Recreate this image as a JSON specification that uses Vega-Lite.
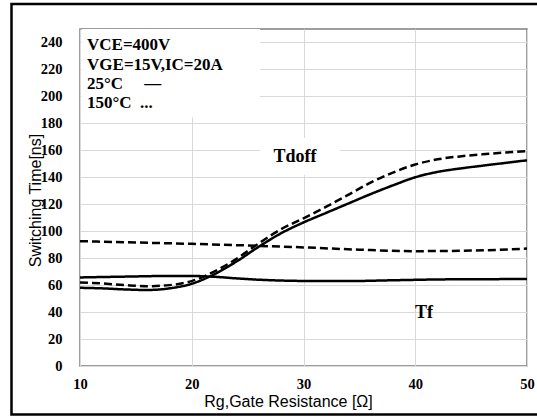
{
  "$schema": "https://vega.github.io/schema/vega-lite/v6.json",
  "width": 447,
  "height": 337,
  "autosize": {"type": "none"},
  "padding": {"left": 80, "top": 29, "right": 10, "bottom": 51},
  "background": "white",
  "config": {
    "view": {"stroke": "#7f7f7f", "strokeWidth": 1.5},
    "axis": {
      "domain": false,
      "ticks": false,
      "labelOverlap": false,
      "labelFlush": false,
      "gridColor": "#d9d9d9",
      "gridWidth": 1,
      "labelFont": "Liberation Serif",
      "labelFontWeight": "bold",
      "labelFontSize": 14.5,
      "labelColor": "#000000",
      "titleFont": "Liberation Sans",
      "titleFontWeight": "normal",
      "titleFontSize": 16,
      "titleColor": "#000000"
    }
  },
  "datasets": {
    "curves": [
      {"rg": 10, "t": 58, "series": "Tdoff 25°C", "temp": "25°C"},
      {"rg": 12, "t": 57.6, "series": "Tdoff 25°C", "temp": "25°C"},
      {"rg": 14, "t": 56.8, "series": "Tdoff 25°C", "temp": "25°C"},
      {"rg": 16, "t": 56.4, "series": "Tdoff 25°C", "temp": "25°C"},
      {"rg": 18, "t": 57.6, "series": "Tdoff 25°C", "temp": "25°C"},
      {"rg": 20, "t": 61, "series": "Tdoff 25°C", "temp": "25°C"},
      {"rg": 22, "t": 68, "series": "Tdoff 25°C", "temp": "25°C"},
      {"rg": 24, "t": 77.5, "series": "Tdoff 25°C", "temp": "25°C"},
      {"rg": 26, "t": 88.5, "series": "Tdoff 25°C", "temp": "25°C"},
      {"rg": 28, "t": 98.5, "series": "Tdoff 25°C", "temp": "25°C"},
      {"rg": 30, "t": 106.5, "series": "Tdoff 25°C", "temp": "25°C"},
      {"rg": 32, "t": 113.5, "series": "Tdoff 25°C", "temp": "25°C"},
      {"rg": 34, "t": 120.5, "series": "Tdoff 25°C", "temp": "25°C"},
      {"rg": 36, "t": 127.5, "series": "Tdoff 25°C", "temp": "25°C"},
      {"rg": 38, "t": 134, "series": "Tdoff 25°C", "temp": "25°C"},
      {"rg": 40, "t": 140, "series": "Tdoff 25°C", "temp": "25°C"},
      {"rg": 42, "t": 144, "series": "Tdoff 25°C", "temp": "25°C"},
      {"rg": 44, "t": 146.5, "series": "Tdoff 25°C", "temp": "25°C"},
      {"rg": 46, "t": 148.6, "series": "Tdoff 25°C", "temp": "25°C"},
      {"rg": 48, "t": 150.6, "series": "Tdoff 25°C", "temp": "25°C"},
      {"rg": 50, "t": 152.6, "series": "Tdoff 25°C", "temp": "25°C"},
      {"rg": 10, "t": 62, "series": "Tdoff 150°C", "temp": "150°C"},
      {"rg": 12, "t": 61.2, "series": "Tdoff 150°C", "temp": "150°C"},
      {"rg": 14, "t": 60, "series": "Tdoff 150°C", "temp": "150°C"},
      {"rg": 16, "t": 59.2, "series": "Tdoff 150°C", "temp": "150°C"},
      {"rg": 18, "t": 60, "series": "Tdoff 150°C", "temp": "150°C"},
      {"rg": 20, "t": 63, "series": "Tdoff 150°C", "temp": "150°C"},
      {"rg": 22, "t": 70, "series": "Tdoff 150°C", "temp": "150°C"},
      {"rg": 24, "t": 79.5, "series": "Tdoff 150°C", "temp": "150°C"},
      {"rg": 26, "t": 91, "series": "Tdoff 150°C", "temp": "150°C"},
      {"rg": 28, "t": 101.5, "series": "Tdoff 150°C", "temp": "150°C"},
      {"rg": 30, "t": 109.5, "series": "Tdoff 150°C", "temp": "150°C"},
      {"rg": 32, "t": 118, "series": "Tdoff 150°C", "temp": "150°C"},
      {"rg": 34, "t": 127, "series": "Tdoff 150°C", "temp": "150°C"},
      {"rg": 36, "t": 136, "series": "Tdoff 150°C", "temp": "150°C"},
      {"rg": 38, "t": 143.5, "series": "Tdoff 150°C", "temp": "150°C"},
      {"rg": 40, "t": 149.5, "series": "Tdoff 150°C", "temp": "150°C"},
      {"rg": 42, "t": 153.3, "series": "Tdoff 150°C", "temp": "150°C"},
      {"rg": 44, "t": 155.5, "series": "Tdoff 150°C", "temp": "150°C"},
      {"rg": 46, "t": 157, "series": "Tdoff 150°C", "temp": "150°C"},
      {"rg": 48, "t": 158.3, "series": "Tdoff 150°C", "temp": "150°C"},
      {"rg": 50, "t": 159.5, "series": "Tdoff 150°C", "temp": "150°C"},
      {"rg": 10, "t": 65.7, "series": "Tf 25°C", "temp": "25°C"},
      {"rg": 14, "t": 66.3, "series": "Tf 25°C", "temp": "25°C"},
      {"rg": 18, "t": 66.8, "series": "Tf 25°C", "temp": "25°C"},
      {"rg": 20, "t": 66.8, "series": "Tf 25°C", "temp": "25°C"},
      {"rg": 22, "t": 66.2, "series": "Tf 25°C", "temp": "25°C"},
      {"rg": 24, "t": 65, "series": "Tf 25°C", "temp": "25°C"},
      {"rg": 26, "t": 64, "series": "Tf 25°C", "temp": "25°C"},
      {"rg": 28, "t": 63.4, "series": "Tf 25°C", "temp": "25°C"},
      {"rg": 30, "t": 63.1, "series": "Tf 25°C", "temp": "25°C"},
      {"rg": 34, "t": 63, "series": "Tf 25°C", "temp": "25°C"},
      {"rg": 38, "t": 63.6, "series": "Tf 25°C", "temp": "25°C"},
      {"rg": 42, "t": 64.2, "series": "Tf 25°C", "temp": "25°C"},
      {"rg": 46, "t": 64.4, "series": "Tf 25°C", "temp": "25°C"},
      {"rg": 50, "t": 64.5, "series": "Tf 25°C", "temp": "25°C"},
      {"rg": 10, "t": 92.6, "series": "Tf 150°C", "temp": "150°C"},
      {"rg": 15, "t": 91.6, "series": "Tf 150°C", "temp": "150°C"},
      {"rg": 20, "t": 90.6, "series": "Tf 150°C", "temp": "150°C"},
      {"rg": 25, "t": 89.4, "series": "Tf 150°C", "temp": "150°C"},
      {"rg": 30, "t": 88, "series": "Tf 150°C", "temp": "150°C"},
      {"rg": 35, "t": 86.3, "series": "Tf 150°C", "temp": "150°C"},
      {"rg": 40, "t": 85.2, "series": "Tf 150°C", "temp": "150°C"},
      {"rg": 45, "t": 85.6, "series": "Tf 150°C", "temp": "150°C"},
      {"rg": 50, "t": 87.1, "series": "Tf 150°C", "temp": "150°C"}
    ],
    "notes": [
      {"label": "VCE=400V", "rg": 10.63, "t": 237.9},
      {"label": "VGE=15V,IC=20A", "rg": 10.63, "t": 223.5},
      {"label": "25°C\u00a0\u00a0\u00a0\u00a0\u00a0—", "rg": 10.63, "t": 209.2},
      {"label": "150°C\u00a0\u00a0...", "rg": 10.63, "t": 195.1}
    ],
    "curvelabels": [
      {"label": "Tdoff", "rg": 29.24, "t": 155.0},
      {"label": "Tf", "rg": 40.78, "t": 39.3}
    ],
    "boxes": [
      {"x1": 10.15, "x2": 26.11, "y1": 184.5, "y2": 250},
      {"x1": 26.11, "x2": 33.27, "y1": 141.7, "y2": 169.1}
    ],
    "frame": [
      {"x1": 3.87, "x2": 51.07, "y1": -36.0, "y2": 268.5}
    ]
  },
  "layer": [
    {
      "data": {"name": "boxes"},
      "mark": {"type": "rect", "fill": "white", "stroke": null},
      "encoding": {
        "x": {"field": "x1", "type": "quantitative", "scale": {"domain": [10, 50], "nice": false, "zero": false}},
        "x2": {"field": "x2"},
        "y": {"field": "y1", "type": "quantitative", "scale": {"domain": [0, 250], "nice": false, "zero": false}},
        "y2": {"field": "y2"}
      }
    },
    {
      "data": {"name": "curves"},
      "mark": {"type": "line", "interpolate": "monotone", "color": "black", "strokeWidth": 2.5},
      "encoding": {
        "x": {
          "field": "rg", "type": "quantitative",
          "axis": {"values": [10, 20, 30, 40, 50], "tickCount": 5, "labelOverlap": false, "labelFlush": false, "labelPadding": 11, "title": "Rg,Gate Resistance [Ω]", "titleX": 208, "titleY": 27}
        },
        "y": {
          "field": "t", "type": "quantitative",
          "axis": {"values": [0, 20, 40, 60, 80, 100, 120, 140, 160, 180, 200, 220, 240], "tickCount": 13, "labelOverlap": false, "labelFlush": false, "labelPadding": 18, "title": "Switching Time[ns]", "titleX": -37, "titleY": 171}
        },
        "detail": {"field": "series"},
        "strokeDash": {
          "field": "temp", "type": "nominal",
          "scale": {"domain": ["25°C", "150°C"], "range": [[1, 0], [8, 4]]},
          "legend": null
        }
      }
    },
    {
      "data": {"name": "notes"},
      "mark": {"type": "text", "align": "left", "baseline": "middle", "font": "Liberation Serif", "fontWeight": "bold", "fontSize": 17, "color": "black"},
      "encoding": {
        "x": {"field": "rg", "type": "quantitative"},
        "y": {"field": "t", "type": "quantitative"},
        "text": {"field": "label"}
      }
    },
    {
      "data": {"name": "curvelabels"},
      "mark": {"type": "text", "align": "center", "baseline": "middle", "font": "Liberation Serif", "fontWeight": "bold", "fontSize": 18, "color": "black"},
      "encoding": {
        "x": {"field": "rg", "type": "quantitative"},
        "y": {"field": "t", "type": "quantitative"},
        "text": {"field": "label"}
      }
    },
    {
      "data": {"name": "frame"},
      "mark": {"type": "rect", "fill": null, "fillOpacity": 0, "stroke": "black", "strokeWidth": 2.5},
      "encoding": {
        "x": {"field": "x1", "type": "quantitative"},
        "x2": {"field": "x2"},
        "y": {"field": "y1", "type": "quantitative"},
        "y2": {"field": "y2"}
      }
    }
  ]
}
